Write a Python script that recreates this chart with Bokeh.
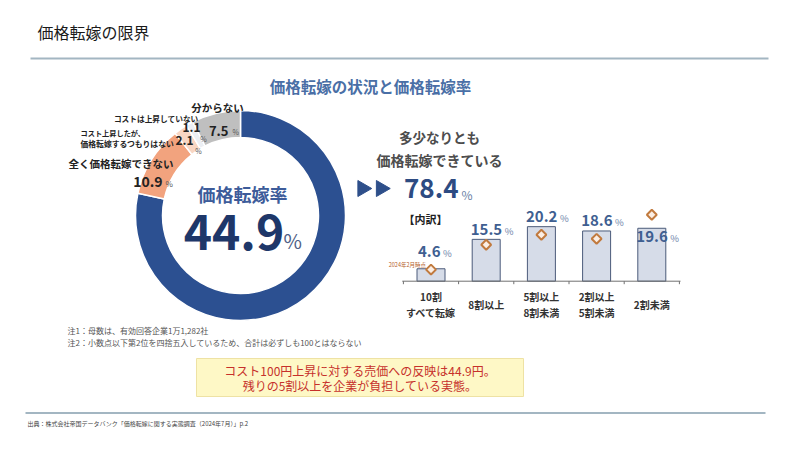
import numpy as np
from bokeh.plotting import figure
from bokeh.models import Range1d
from bokeh.core.properties import value
from bokeh.embed import file_html
from bokeh.resources import INLINE

# ---------------- data ----------------
title = "価格転嫁の限界"
subtitle = "価格転嫁の状況と価格転嫁率"
donut_labels = ["価格転嫁できている", "全く価格転嫁できない",
                "コスト上昇したが、価格転嫁するつもりはない",
                "コストは上昇していない", "分からない"]
donut_values = [78.4, 10.9, 2.1, 1.1, 7.5]
donut_colors = ["#2c5091", "#f2a37e", "#f8d6c3", "#eceff4", "#bfbfbf"]
pass_through_rate = 44.9
passed_share = 78.4

bar_categories = ["10割\nすべて転嫁", "8割以上", "5割以上\n8割未満", "2割以上\n5割未満", "2割未満"]
bar_values_2024_07 = [4.6, 15.5, 20.2, 18.6, 19.6]
bar_values_2024_02 = [4.3, 13.5, 17.2, 15.7, 24.6]

notes = ["注1：母数は、有効回答企業1万1,282社",
         "注2：小数点以下第2位を四捨五入しているため、合計は必ずしも100とはならない"]
message = ["コスト100円上昇に対する売価への反映は44.9円。",
           "残りの5割以上を企業が負担している実態。"]
source = "出典：株式会社帝国データバンク「価格転嫁に関する実態調査（2024年7月）」p.2"

# ---------------- figure ----------------
W, H = 800, 450
FONT = "Noto Sans CJK JP"
p = figure(width=W, height=H, x_range=Range1d(0, W), y_range=Range1d(0, H),
           output_backend="svg", toolbar_location=None, min_border=0,
           x_axis_location=None, y_axis_location=None)
p.grid.visible = False
p.outline_line_color = None
p.background_fill_color = "white"
p.border_fill_color = "white"


def Y(py):
    return H - py


def txt(x, y, s, size, color, bold=False, align="left", **kw):
    p.text(x=[x], y=[y], text=[s], text_font=value(FONT), text_font_size=f"{size}px",
           text_color=color, text_font_style="bold" if bold else "normal",
           text_align=align, text_baseline="middle", **kw)


def ptxt(x, py, s, size, color, bold=False, align="left"):
    txt(x, Y(py), s, size, color, bold, align)


# header / footer
ptxt(37, 31, title, 16, "#1a1a1a")
p.segment(x0=[30], y0=[Y(58)], x1=[768], y1=[Y(58)], line_color="#a3b6c2", line_width=2)
ptxt(370, 85, subtitle, 15.5, "#4a6fa6", bold=True, align="center")
p.segment(x0=[25], y0=[Y(412.5)], x1=[765], y1=[Y(412.5)], line_color="#a3b6c2", line_width=2)
ptxt(27, 423, source, 6, "#444444")

# ---------------- donut ----------------
CX, CY, RIN, ROUT = 240, 215, 78, 105
frac = np.array(donut_values) / np.sum(donut_values)
cum = np.concatenate([[0.0], np.cumsum(frac)])
start = np.pi / 2 - cum[:-1] * 2 * np.pi
end = np.pi / 2 - cum[1:] * 2 * np.pi
p.annular_wedge(x=CX, y=Y(CY), inner_radius=RIN, outer_radius=ROUT,
                start_angle=start, end_angle=end, direction="clock",
                fill_color=donut_colors, line_color="white", line_width=1.5)

ptxt(242, 193, "価格転嫁率", 18, "#3d5c9a", bold=True, align="center")
ptxt(233.5, 231, f"{pass_through_rate:.1f}", 48, "#1e3769", bold=True, align="center")
ptxt(283, 240, "%", 20, "#4f5f86", align="left")

dark = "#222222"
ptxt(217, 107, donut_labels[4], 10.5, dark, bold=True, align="center")
ptxt(228, 130, f"{donut_values[4]:.1f}", 13, dark, bold=True, align="right")
ptxt(232, 131.5, "%", 7, "#555555")
ptxt(198, 118, donut_labels[3], 7.7, dark, bold=True, align="right")
ptxt(200, 127, f"{donut_values[3]:.1f}", 12, dark, bold=True, align="right")
ptxt(203, 138, "%", 7, "#555555", align="center")
ptxt(80, 132, donut_labels[2][:9], 7.2, dark, bold=True)
ptxt(80, 143, donut_labels[2][9:], 7.8, dark, bold=True)
ptxt(193, 140, f"{donut_values[2]:.1f}", 12, dark, bold=True, align="right")
ptxt(198, 150, "%", 7, "#555555", align="center")
ptxt(68, 163, donut_labels[1], 10.5, dark, bold=True)
ptxt(162, 181, f"{donut_values[1]:.1f}", 14, dark, bold=True, align="right")
ptxt(165, 183, "%", 8, "#555555")

for k, n in enumerate(notes):
    ptxt(67, 330 + 12 * k, n, 8, "#555555")

# ---------------- right summary ----------------
ptxt(439, 136, "多少なりとも", 13.5, "#4d4d4d", bold=True, align="center")
ptxt(439, 159, "価格転嫁できている", 14, "#4d4d4d", bold=True, align="center")
p.scatter(x=[362, 380.5], y=[Y(188), Y(188)], marker="triangle", angle=-np.pi / 2,
          size=16, fill_color="#2e4f8a", line_color="#2e4f8a")
ptxt(458, 188, f"{passed_share:.1f}", 26, "#2d4b82", bold=True, align="right")
ptxt(461, 194, "%", 12, "#6a7fa6")
ptxt(403, 218, "【内訳】", 11, dark, bold=True)

# ---------------- bar chart (own ranges) ----------------
BX0, BDX = 430.5, 55.2   # pixel x of first category, pixels per category
BY0, BDY = 280.7, 2.7    # pixel y of baseline (from top), pixels per %
p.extra_x_ranges = {"bx": Range1d(-BX0 / BDX, (W - BX0) / BDX)}
p.extra_y_ranges = {"by": Range1d(-(H - BY0) / BDY, BY0 / BDY)}
R = dict(x_range_name="bx", y_range_name="by")

idx = np.arange(len(bar_categories))
p.vbar(x=idx, top=bar_values_2024_07, bottom=0, width=28 / BDX,
       fill_color="#d6dce8", line_color="#4b5b7a", line_width=1, **R)
p.segment(x0=[-0.52], y0=[0], x1=[len(idx) - 0.48], y1=[0], line_color="#707070", line_width=1, **R)
ticks = np.arange(len(idx) + 1) - 0.5
p.segment(x0=ticks, y0=np.zeros_like(ticks), x1=ticks, y1=np.full_like(ticks, -3 / BDY),
          line_color="#707070", line_width=1, **R)
p.scatter(x=idx, y=bar_values_2024_02, marker="square", angle=np.pi / 4, size=7,
          fill_color="#fbeee4", line_color="#c17a3e", line_width=2, **R)
txt(idx[0] - 5 / BDX, bar_values_2024_02[0] + 5 / BDY, "2024年2月時点", 5.5, "#b5622c",
    align="right", **R)

for i, (v, v2, cat) in enumerate(zip(bar_values_2024_07, bar_values_2024_02, bar_categories)):
    if v2 > v:
        off = -8
    elif v - v2 < 1:
        off = 17
    else:
        off = 10
    s = f"{v:.1f}"
    right = 16 if len(s) >= 4 else 9.5
    txt(i + right / BDX, v + off / BDY, s, 15, "#3f5f91", bold=True, align="right", **R)
    txt(i + (right + 2.5) / BDX, v + (off - 1.5) / BDY, "%", 9.5, "#7186ab", **R)
    lines = cat.split("\n")
    if len(lines) == 2:
        ys = [296, 312]
    else:
        ys = [304]
    for ln, py in zip(lines, ys):
        txt(i, (BY0 - py) / BDY, ln, 10, "#333333", bold=True, align="center", **R)

# ---------------- message box ----------------
p.quad(left=[196], right=[523], top=[Y(358)], bottom=[Y(396)],
       fill_color="#fef8c6", line_color="#eee2a4", line_width=1)
ptxt(359.5, 370, message[0], 12, "#c6302b", align="center")
ptxt(359.5, 385, message[1], 12, "#c6302b", align="center")

open("out.html", "w").write(file_html(p, INLINE))
